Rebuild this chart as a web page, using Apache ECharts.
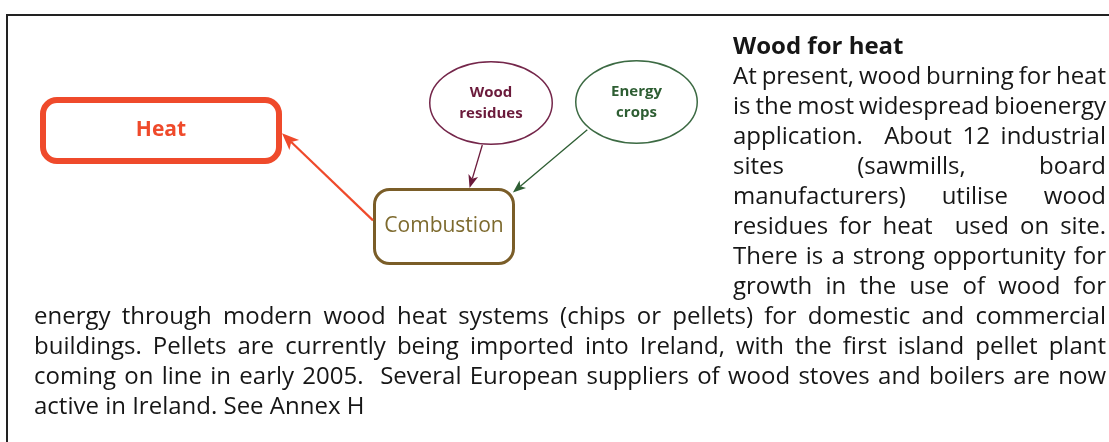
<!DOCTYPE html>
<html lang="en">
<head>
    <meta charset="UTF-8">
    <script src="https://cdn.jsdelivr.net/npm/echarts@6/dist/echarts.min.js"></script>
    <title>Wood for heat</title>
    <style>
        html,
        body {
            margin: 0;
            padding: 0;
            background: #fff;
            overflow: hidden;
        }
        #chart {
            width: 1109px;
            height: 442px;
        }
    </style>
</head>
<body>
<div id="chart"></div>
<script>
    // ---- content ----
    var nodeIds = ['heat', 'combustion', 'residues', 'crops'];
    var nodeLabels = ['Heat', 'Combustion', 'Wood\nresidues', 'Energy\ncrops'];
    var linkPairs = [['combustion', 'heat'], ['residues', 'combustion'], ['crops', 'combustion']];

    var headingLine = 'Wood for heat';
    var columnLines = [
        'At present, wood burning for heat',
        'is the most widespread bioenergy',
        'application.  About 12 industrial',
        'sites (sawmills, board',
        'manufacturers) utilise wood',
        'residues for heat  used on site.',
        'There is a strong opportunity for',
        'growth in the use of wood for'
    ];
    var wideLines = [
        'energy through modern wood heat systems (chips or pellets) for domestic and commercial',
        'buildings. Pellets are currently being imported into Ireland, with the first island pellet plant',
        'coming on line in early 2005.  Several European suppliers of wood stoves and boilers are now'
    ];
    var lastLine = 'active in Ireland. See Annex H';

    // ---- layout / style ----
    // box = outer edges [x, y, w, h]
    var nodeLayout = {
        heat:       {shape: 'rect', box: [40, 97, 242, 67], r: 14, stroke: '#ef4a2b', lineWidth: 6, color: '#ef4a2b', size: 21, weight: 'bold'},
        combustion: {shape: 'rect', box: [373, 188, 142, 77], r: 15, stroke: '#7a5d28', lineWidth: 3, color: '#7d6a2e', size: 21, weight: 'normal'},
        residues:   {shape: 'ellipse', box: [429, 61, 124, 84], stroke: '#74264a', lineWidth: 1.5, color: '#6b1a3b', size: 15, weight: 'bold'},
        crops:      {shape: 'ellipse', box: [575, 60, 123, 84], stroke: '#3c6a43', lineWidth: 1.5, color: '#2e5e33', size: 15, weight: 'bold'}
    };
    // anchors as fractions of the node's outer box
    var linkLayout = [
        {from: [0, 0.42], to: [1, 0.54], color: '#ef4a2b', width: 2.2, head: [17, 7]},
        {from: [0.43, 1], to: [0.68, 0], color: '#6b1a3b', width: 1.3, head: [13, 5]},
        {from: [0.10, 0.83], to: [0.985, 0.06], color: '#2e5e33', width: 1.3, head: [13, 5]}
    ];
    var family = '"Open Sans", sans-serif';
    var bodySize = 24;
    var bodyColor = '#161616';
    var columnX = [733, 1106];
    var wideX = [34, 1106];
    var firstBaseline = 54;
    var linePitch = 30;

    var ctx = document.createElement('canvas').getContext('2d');
    function fontStr(weight, size) {
        return weight + ' ' + size + 'px ' + family;
    }
    function measure(str, weight, size) {
        ctx.font = fontStr(weight, size);
        return ctx.measureText(str).width;
    }
    function middleToBaseline(weight, size) {
        ctx.font = fontStr(weight, size);
        ctx.textBaseline = 'middle';
        var d = ctx.measureText('x').actualBoundingBoxDescent;
        ctx.textBaseline = 'alphabetic';
        return d;
    }

    function textEl(str, x, y, weight, size, color, align) {
        return {
            type: 'text', x: x, y: y, silent: true,
            style: {
                text: str, fill: color, fontFamily: family, fontSize: size, fontWeight: weight,
                align: align || 'left', verticalAlign: 'middle'
            }
        };
    }

    // one text element per word, spread to fill the line width
    function justifiedLine(line, x0, x1, baseline) {
        var tokens = line.split(' ');
        var widths = tokens.map(function (t) { return measure(t, 'normal', bodySize); });
        var total = widths.reduce(function (a, b) { return a + b; }, 0);
        var gap = (x1 - x0 - total) / (tokens.length - 1);
        var y = baseline - middleToBaseline('normal', bodySize);
        var out = [];
        var x = x0;
        tokens.forEach(function (t, i) {
            if (t) out.push(textEl(t, x, y, 'normal', bodySize, bodyColor));
            x += widths[i] + gap;
        });
        return out;
    }

    function anchor(id, f) {
        var b = nodeLayout[id].box;
        return [b[0] + b[2] * f[0], b[1] + b[3] * f[1]];
    }

    function arrowEls(p, q, lk) {
        var dx = q[0] - p[0], dy = q[1] - p[1];
        var len = Math.sqrt(dx * dx + dy * dy);
        var ux = dx / len, uy = dy / len;
        var hl = lk.head[0], hw = lk.head[1];
        var bx = q[0] - ux * hl, by = q[1] - uy * hl;
        var nx = bx + ux * hl * 0.25, ny = by + uy * hl * 0.25;
        return [
            {type: 'line', silent: true, shape: {x1: p[0], y1: p[1], x2: nx, y2: ny},
                style: {stroke: lk.color, lineWidth: lk.width}},
            {type: 'polygon', silent: true,
                shape: {points: [[q[0], q[1]], [bx - uy * hw, by + ux * hw], [nx, ny], [bx + uy * hw, by - ux * hw]]},
                style: {fill: lk.color}}
        ];
    }

    var elements = [];

    // frame
    elements.push({type: 'line', shape: {x1: 6, y1: 15, x2: 1109, y2: 15}, style: {stroke: '#222', lineWidth: 2}});
    elements.push({type: 'line', shape: {x1: 7, y1: 14, x2: 7, y2: 442}, style: {stroke: '#222', lineWidth: 2}});

    // nodes
    nodeIds.forEach(function (id, i) {
        var n = nodeLayout[id], b = n.box, lw = n.lineWidth;
        if (n.shape === 'rect') {
            elements.push({type: 'rect', silent: true,
                shape: {x: b[0] + lw / 2, y: b[1] + lw / 2, width: b[2] - lw, height: b[3] - lw, r: n.r},
                style: {fill: '#fff', stroke: n.stroke, lineWidth: lw}});
        } else {
            elements.push({type: 'ellipse', silent: true,
                shape: {cx: b[0] + b[2] / 2, cy: b[1] + b[3] / 2, rx: (b[2] - lw) / 2, ry: (b[3] - lw) / 2},
                style: {fill: '#fff', stroke: n.stroke, lineWidth: lw}});
        }
        var t = textEl(nodeLabels[i], b[0] + b[2] / 2, b[1] + b[3] / 2, n.weight, n.size, n.color, 'center');
        t.style.lineHeight = 21;
        elements.push(t);
    });

    // links
    linkPairs.forEach(function (pair, i) {
        var lk = linkLayout[i];
        elements = elements.concat(arrowEls(anchor(pair[0], lk.from), anchor(pair[1], lk.to), lk));
    });

    // text block
    elements.push(textEl(headingLine, columnX[0], firstBaseline - middleToBaseline('bold', bodySize),
        'bold', bodySize, bodyColor));
    columnLines.forEach(function (line, i) {
        elements = elements.concat(justifiedLine(line, columnX[0], columnX[1], firstBaseline + (i + 1) * linePitch));
    });
    var wideStart = firstBaseline + (columnLines.length + 1) * linePitch;
    wideLines.forEach(function (line, i) {
        elements = elements.concat(justifiedLine(line, wideX[0], wideX[1], wideStart + i * linePitch));
    });
    elements.push(textEl(lastLine, wideX[0],
        wideStart + wideLines.length * linePitch - middleToBaseline('normal', bodySize),
        'normal', bodySize, bodyColor));

    var myChart = echarts.init(document.getElementById('chart'));
    myChart.setOption({
        backgroundColor: '#fff',
        animation: false,
        graphic: {elements: elements}
    });
</script>
</body>
</html>
